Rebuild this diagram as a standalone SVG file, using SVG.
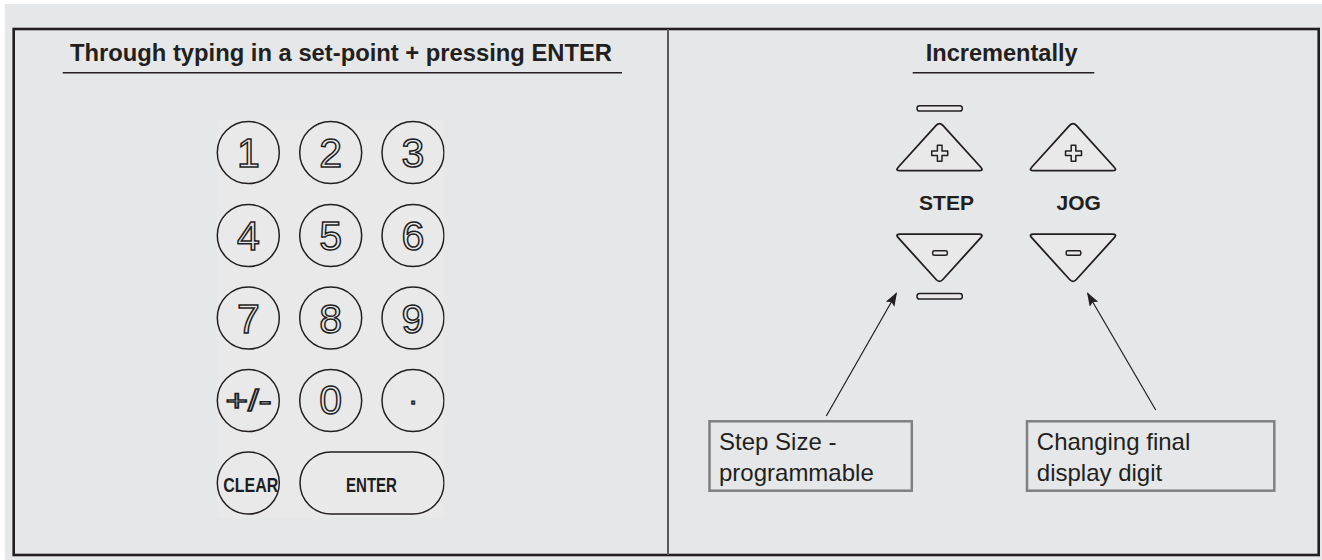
<svg xmlns="http://www.w3.org/2000/svg" width="1322" height="560" viewBox="0 0 1322 560">
  <style>
    .hdr { font-family: "Liberation Sans", Arial, sans-serif; font-weight: bold; font-size: 23px; fill: #231f20; }
    .ul { stroke: #231f20; stroke-width: 1.5; }
    .key { fill: none; stroke: #231f20; stroke-width: 1.5; }
    .dig { font-family: "Liberation Sans", Arial, sans-serif; font-size: 41px; fill: #e9e9ea; stroke: #1e1e1e; stroke-width: 1.5; text-anchor: middle; }
    .kw { font-family: "Liberation Sans", Arial, sans-serif; font-weight: bold; font-size: 20px; fill: #1e1e1e; }
    .tri { fill: #e9e9ea; stroke: #231f20; stroke-width: 1.8; stroke-linejoin: round; }
    .sym { fill: #e9e9ea; stroke: #231f20; stroke-width: 1.5; stroke-linejoin: round; }
    .lbl { font-family: "Liberation Sans", Arial, sans-serif; font-weight: bold; font-size: 21px; fill: #231f20; text-anchor: middle; }
    .box { fill: none; stroke: #808080; stroke-width: 2.5; }
    .note { font-family: "Liberation Sans", Arial, sans-serif; font-size: 24px; fill: #231f20; }
    .conn { stroke: #231f20; stroke-width: 1.2; fill: none; marker-end: url(#arrow); }
  </style>
  <defs>
    <marker id="arrow" viewBox="0 0 14 10" refX="13" refY="5" markerWidth="14" markerHeight="10" markerUnits="userSpaceOnUse" orient="auto">
      <path d="M0,0 L14,5 L0,10 L2.5,5 Z" fill="#231f20"/>
    </marker>
    <path id="triUp" d="M -3.36,-20.8 Q 0,-24.5 3.36,-20.8 L 41.1,20.8 Q 44.5,24.5 39.5,24.5 L -39.5,24.5 Q -44.5,24.5 -41.1,20.8 Z"/>
    <path id="plus" d="M -2.3,-8 H 2.3 V -2.3 H 8 V 2.3 H 2.3 V 8 H -2.3 V 2.3 H -8 V -2.3 H -2.3 Z"/>
    <clipPath id="padClip"><rect x="210" y="110" width="234.6" height="420"/></clipPath>
  </defs>

  <rect x="0" y="0" width="1322" height="560" fill="#ffffff"/>
  <rect x="4.7" y="4" width="1317.3" height="556" fill="#e6e7e8"/>

  <!-- frame -->
  <g id="frame">
    <rect x="13.7" y="29" width="1305" height="526" fill="none" stroke="#231f20" stroke-width="2.6"/>
    <line x1="668" y1="29" x2="668" y2="555" stroke="#58595b" stroke-width="2"/>
  </g>

  <g id="header-left">
    <text class="hdr" x="70" y="60.5" textLength="542" lengthAdjust="spacingAndGlyphs">Through typing in a set-point + pressing ENTER</text>
    <line class="ul" x1="62.7" y1="72.7" x2="622" y2="72.7"/>
  </g>
  <g id="header-right">
    <text class="hdr" x="925.7" y="60.5" textLength="152" lengthAdjust="spacingAndGlyphs">Incrementally</text>
    <line class="ul" x1="912.7" y1="72.7" x2="1094.3" y2="72.7"/>
  </g>

  <!-- keypad -->
  <g id="keypad" clip-path="url(#padClip)">
    <rect x="216.7" y="120" width="227.5" height="398" fill="#e9e9ea"/>
    <g id="key-1"><circle class="key" cx="248.3" cy="152.5" r="31"/><text class="dig" x="248.3" y="167">1</text></g>
    <g id="key-2"><circle class="key" cx="330.7" cy="152.5" r="31"/><text class="dig" x="330.7" y="167">2</text></g>
    <g id="key-3"><circle class="key" cx="413" cy="152.5" r="31"/><text class="dig" x="413" y="167">3</text></g>
    <g id="key-4"><circle class="key" cx="248.3" cy="235.5" r="31"/><text class="dig" x="248.3" y="250">4</text></g>
    <g id="key-5"><circle class="key" cx="330.7" cy="235.5" r="31"/><text class="dig" x="330.7" y="250">5</text></g>
    <g id="key-6"><circle class="key" cx="413" cy="235.5" r="31"/><text class="dig" x="413" y="250">6</text></g>
    <g id="key-7"><circle class="key" cx="248.3" cy="318" r="31"/><text class="dig" x="248.3" y="332.5">7</text></g>
    <g id="key-8"><circle class="key" cx="330.7" cy="318" r="31"/><text class="dig" x="330.7" y="332.5">8</text></g>
    <g id="key-9"><circle class="key" cx="413" cy="318" r="31"/><text class="dig" x="413" y="332.5">9</text></g>
    <g id="key-sign"><circle class="key" cx="248.3" cy="400.5" r="31"/><text class="dig" x="248.5" y="411" style="font-size:29px" textLength="46" lengthAdjust="spacingAndGlyphs">+/-</text></g>
    <g id="key-0"><circle class="key" cx="330.7" cy="400.5" r="31"/><text class="dig" x="330.7" y="414">0</text></g>
    <g id="key-dot"><circle class="key" cx="413" cy="400.5" r="31"/><text class="dig" x="413" y="404" style="font-size:26px">.</text></g>
    <g id="key-clear"><circle class="key" cx="248.3" cy="483" r="31"/><text class="kw" x="223.3" y="491.5" textLength="55" lengthAdjust="spacingAndGlyphs">CLEAR</text></g>
    <g id="key-enter"><rect class="key" x="300" y="452" width="144" height="62" rx="31"/><text class="kw" x="346" y="491.5" textLength="51" lengthAdjust="spacingAndGlyphs">ENTER</text></g>
  </g>

  <!-- STEP buttons -->
  <g id="step-bar-top"><rect class="sym" x="917" y="105.7" width="45.3" height="5.3" rx="2.6"/></g>
  <g id="step-up">
    <use href="#triUp" class="tri" transform="translate(939.5,146.2)"/>
    <use href="#plus" class="sym" transform="translate(939.7,153.3)"/>
  </g>
  <g id="step-label"><text class="lbl" x="946.5" y="210">STEP</text></g>
  <g id="step-down">
    <use href="#triUp" class="tri" transform="translate(939.5,258.7) scale(1,-1)"/>
    <rect class="sym" x="932.7" y="250.7" width="14.6" height="4.6" rx="1.5"/>
  </g>
  <g id="step-bar-bottom"><rect class="sym" x="917" y="293.5" width="45.3" height="5.5" rx="2.6"/></g>

  <!-- JOG buttons -->
  <g id="jog-up">
    <use href="#triUp" class="tri" transform="translate(1073,146.2)"/>
    <use href="#plus" class="sym" transform="translate(1073.5,153.3)"/>
  </g>
  <g id="jog-label"><text class="lbl" x="1078.7" y="210">JOG</text></g>
  <g id="jog-down">
    <use href="#triUp" class="tri" transform="translate(1073,258.7) scale(1,-1)"/>
    <rect class="sym" x="1066.2" y="250.7" width="14.6" height="4.6" rx="1.5"/>
  </g>

  <!-- callouts -->
  <g id="callout-step">
    <rect class="box" x="709.5" y="421.3" width="202.3" height="69.4"/>
    <text class="note" x="719" y="450">Step Size -</text>
    <text class="note" x="719" y="480.5">programmable</text>
  </g>
  <g id="callout-jog">
    <rect class="box" x="1027" y="421.3" width="247.3" height="69.4"/>
    <text class="note" x="1036.8" y="450">Changing final</text>
    <text class="note" x="1036.8" y="480.5">display digit</text>
  </g>

  <g id="connectors">
    <line class="conn" x1="826.3" y1="416" x2="896.5" y2="293"/>
    <line class="conn" x1="1155.7" y1="410" x2="1087.5" y2="293"/>
  </g>
</svg>
